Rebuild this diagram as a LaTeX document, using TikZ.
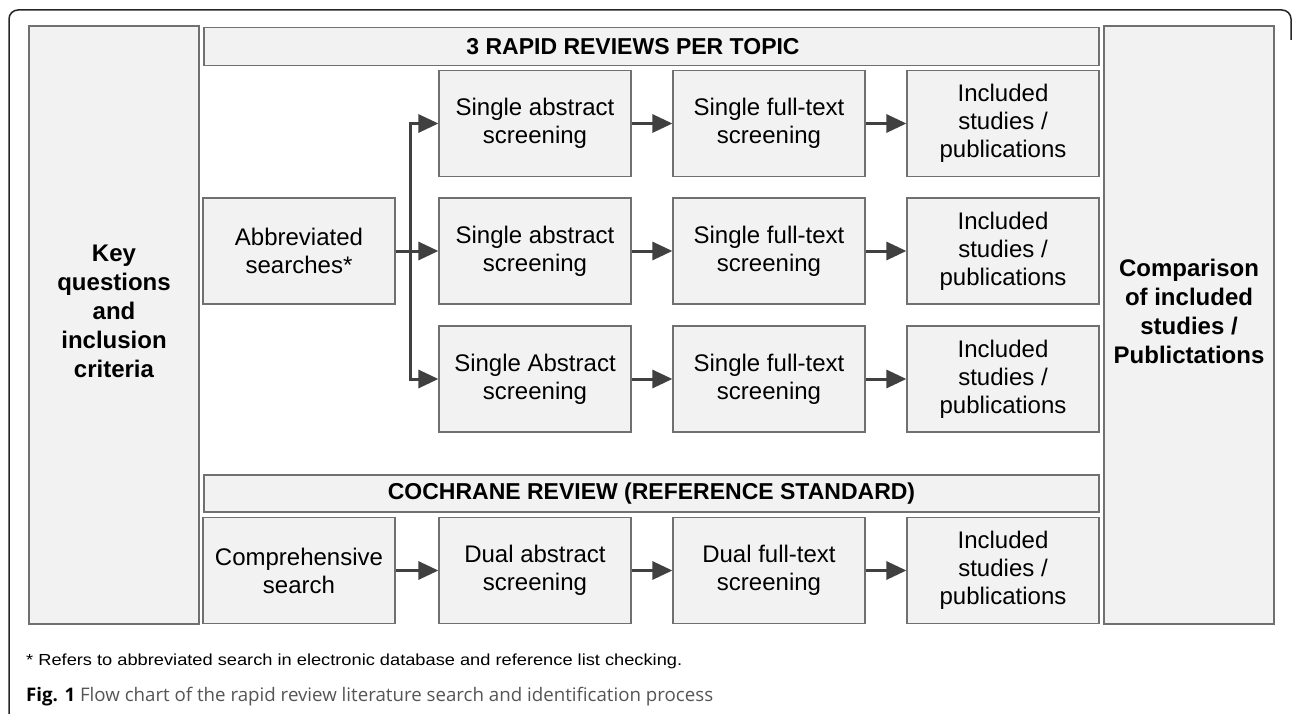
\documentclass[tikz,border=0pt]{standalone}
\usepackage{fontspec}
\setmainfont{Liberation Sans}
\newfontfamily\capfont{Open Sans}
\usetikzlibrary{arrows.meta}

\definecolor{boxfill}{HTML}{F2F2F2}
\definecolor{boxline}{HTML}{707070}
\definecolor{arrowgrey}{HTML}{404040}
\definecolor{capgrey}{HTML}{555555}

\tikzset{
  stepbox/.style={draw=boxline, fill=boxfill, line width=1.2pt, align=center,
    minimum width=192pt, minimum height=106pt, inner sep=0pt,
    font=\fontsize{24}{28}\selectfont},
  sidebox/.style={stepbox, minimum width=170pt, minimum height=598pt},
  sidetext/.style={align=center, font=\fontsize{24}{29}\selectfont\bfseries},
  headbox/.style={stepbox, minimum width=895pt, minimum height=38pt,
    font=\fontsize{23}{26}\selectfont\bfseries},
  arr/.style={draw=arrowgrey, line width=3pt,
    -{Triangle[length=20pt,width=18pt,fill=arrowgrey]}}
}

\begin{document}
\begin{tikzpicture}[x=1pt,y=-1pt]
\useasboundingbox (0,0) rectangle (1292,714);
% frame
\draw[line width=1.5pt, color=black!85, rounded corners=9pt] (9,720) -- (9,10) -- (1291,10) -- (1291,40);

% side boxes
\node[sidebox] (keyq) at (114,325) {};
\node[sidetext] (keyqtxt) at (114,311) {Key\\questions\\and\\inclusion\\criteria};
\node[sidebox] (comp) at (1189,325) {};
\node[sidetext] (comptxt) at (1189,311) {Comparison\\of included\\studies /\\Publictations};

% headers
\node[headbox] (hdrrapid) at (651.5,46.5) {};
\node[font=\fontsize{23}{26}\selectfont\bfseries] (hdrrapidtxt) at (633,46.5) {3 RAPID REVIEWS PER TOPIC};
\node[headbox, minimum height=37pt] (hdrcoch) at (651.5,493.5) {COCHRANE REVIEW (REFERENCE STANDARD)};

% rapid reviews
\node[stepbox] (abbr) at (299,251) {Abbreviated\\searches*};
\coordinate (split) at (410,251);
\foreach \r/\y/\txt in {1/123.5/Single abstract, 2/251/Single abstract, 3/379/Single Abstract}{
  \node[stepbox] (abs\r) at (535,\y) {\txt\\screening};
  \node[stepbox] (full\r) at (769,\y) {Single full-text\\screening};
  \node[stepbox] (incl\r) at (1003,\y) {Included\\studies /\\publications};
  \draw[arr] (abs\r) -- (full\r);
  \draw[arr] (full\r) -- (incl\r);
}
\draw[arr] (abbr) -- (abs2);
\draw[arr] (split) |- (abs1.west);
\draw[arr] (split) |- (abs3.west);

% cochrane review
\node[stepbox] (compr) at (299,570.5) {Comprehensive\\search};
\node[stepbox] (dabs) at (535,570.5) {Dual abstract\\screening};
\node[stepbox] (dfull) at (769,570.5) {Dual full-text\\screening};
\node[stepbox] (dincl) at (1003,570.5) {Included\\studies /\\publications};
\draw[arr] (compr) -- (dabs);
\draw[arr] (dabs) -- (dfull);
\draw[arr] (dfull) -- (dincl);

% notes
\node[anchor=west, inner sep=0pt, xscale=1.14, transform shape, font=\fontsize{16}{19}\selectfont] (note) at (26,661)
  {* Refers to abbreviated search in electronic database and reference list checking.};
\node[anchor=west, inner sep=0pt, font=\capfont\fontsize{18.7}{22}\selectfont, text=capgrey] (caption) at (26,697)
  {\textcolor{black}{\bfseries Fig. 1} Flow chart of the rapid review literature search and identification process};
\end{tikzpicture}
\end{document}
